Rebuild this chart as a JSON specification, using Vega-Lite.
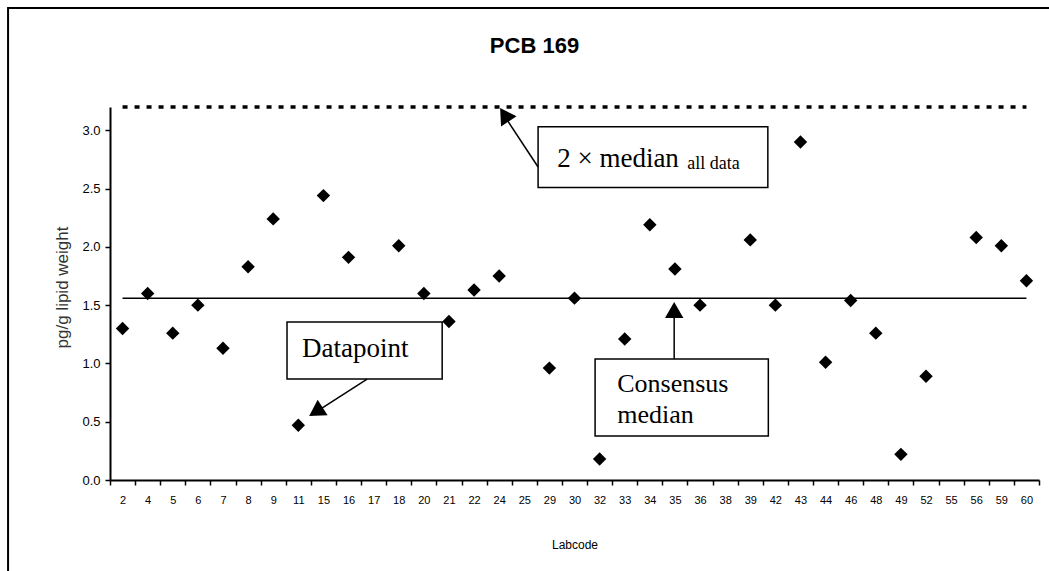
{
  "$schema": "https://vega.github.io/schema/vega-lite/v6.json",
  "width": 929,
  "height": 373,
  "autosize": {"type": "none"},
  "padding": {"left": 110, "top": 107, "right": 10, "bottom": 91},
  "background": "white",
  "title": {
    "text": "PCB 169",
    "font": "Liberation Sans",
    "fontSize": 22,
    "fontWeight": "bold",
    "color": "black",
    "anchor": "middle",
    "frame": "group",
    "baseline": "alphabetic",
    "offset": -68,
    "dx": -40
  },
  "config": {
    "view": {"stroke": null},
    "axis": {
      "grid": false,
      "domainColor": "black",
      "domainWidth": 2,
      "tickColor": "black",
      "tickWidth": 1.5,
      "tickSize": 5,
      "labelColor": "black",
      "labelFont": "Liberation Sans",
      "titleFont": "Liberation Sans",
      "titleColor": "black",
      "titleFontWeight": "normal"
    }
  },
  "datasets": {
    "pcb": [
      {"Labcode": 2, "value": 1.30},
      {"Labcode": 4, "value": 1.60},
      {"Labcode": 5, "value": 1.26},
      {"Labcode": 6, "value": 1.50},
      {"Labcode": 7, "value": 1.13},
      {"Labcode": 8, "value": 1.83},
      {"Labcode": 9, "value": 2.24},
      {"Labcode": 11, "value": 0.47},
      {"Labcode": 15, "value": 2.44},
      {"Labcode": 16, "value": 1.91},
      {"Labcode": 17, "value": null},
      {"Labcode": 18, "value": 2.01},
      {"Labcode": 20, "value": 1.60},
      {"Labcode": 21, "value": 1.36},
      {"Labcode": 22, "value": 1.63},
      {"Labcode": 24, "value": 1.75},
      {"Labcode": 25, "value": null},
      {"Labcode": 29, "value": 0.96},
      {"Labcode": 30, "value": 1.56},
      {"Labcode": 32, "value": 0.18},
      {"Labcode": 33, "value": 1.21},
      {"Labcode": 34, "value": 2.19},
      {"Labcode": 35, "value": 1.81},
      {"Labcode": 36, "value": 1.50},
      {"Labcode": 38, "value": null},
      {"Labcode": 39, "value": 2.06},
      {"Labcode": 42, "value": 1.50},
      {"Labcode": 43, "value": 2.90},
      {"Labcode": 44, "value": 1.01},
      {"Labcode": 46, "value": 1.54},
      {"Labcode": 48, "value": 1.26},
      {"Labcode": 49, "value": 0.22},
      {"Labcode": 52, "value": 0.89},
      {"Labcode": 55, "value": null},
      {"Labcode": 56, "value": 2.08},
      {"Labcode": 59, "value": 2.01},
      {"Labcode": 60, "value": 1.71}
    ]
  },
  "layer": [
    {
      "data": {"name": "pcb"},
      "encoding": {
        "x": {
          "field": "Labcode",
          "type": "ordinal",
          "scale": {"type": "band", "paddingInner": 0, "paddingOuter": 0},
          "axis": {
            "title": "Labcode",
            "labelAngle": 0,
            "labelFontSize": 11,
            "labelPadding": 9,
            "tickBand": "extent",
            "titleFontSize": 12,
            "titlePadding": 34
          }
        }
      },
      "layer": [
        {
          "mark": {"type": "line", "color": "black", "strokeWidth": 1.5},
          "encoding": {
            "y": {"datum": 1.56, "type": "quantitative", "scale": {"domain": [0, 3.2], "nice": false}}
          }
        },
        {
          "mark": {"type": "line", "color": "black", "strokeWidth": 3.5, "strokeDash": [5, 7]},
          "encoding": {
            "y": {"datum": 3.2, "type": "quantitative"}
          }
        },
        {
          "mark": {"type": "point", "shape": "diamond", "filled": true, "color": "black", "opacity": 1, "size": 180},
          "encoding": {
            "y": {
              "field": "value",
              "type": "quantitative",
              "scale": {"domain": [0, 3.2], "nice": false},
              "axis": {
                "title": "pg/g lipid weight",
                "values": [0, 0.5, 1, 1.5, 2, 2.5, 3],
                "format": ".1f",
                "labelFontSize": 13,
                "labelPadding": 5,
                "titleFontSize": 17,
                "titlePadding": 10,
                "titleY": 180,
                "titleColor": "#333"
              }
            }
          }
        }
      ]
    },
    {
      "data": {"values": [{}]},
      "layer": [
        {
          "mark": {"type": "rect", "fill": null, "filled": false, "stroke": "black", "strokeWidth": 2},
          "encoding": {
            "x": {"datum": -4.06, "type": "quantitative", "scale": {"domain": [0, 37], "nice": false}, "axis": null},
            "x2": {"datum": 40},
            "y": {"datum": 4.05, "type": "quantitative", "scale": {"domain": [0, 3.2], "nice": false}, "axis": null},
            "y2": {"datum": -2}
          }
        },
        {
          "mark": {"type": "rect", "fill": "white", "stroke": "black", "strokeWidth": 1.5},
          "encoding": {
            "x": {"datum": 17.05, "type": "quantitative"},
            "x2": {"datum": 26.2},
            "y": {"datum": 3.03, "type": "quantitative"},
            "y2": {"datum": 2.51}
          }
        },
        {
          "mark": {"type": "rect", "fill": "white", "stroke": "black", "strokeWidth": 1.5},
          "encoding": {
            "x": {"datum": 7.05, "type": "quantitative"},
            "x2": {"datum": 13.23},
            "y": {"datum": 1.355, "type": "quantitative"},
            "y2": {"datum": 0.866}
          }
        },
        {
          "mark": {"type": "rect", "fill": "white", "stroke": "black", "strokeWidth": 1.5},
          "encoding": {
            "x": {"datum": 19.32, "type": "quantitative"},
            "x2": {"datum": 26.22},
            "y": {"datum": 1.038, "type": "quantitative"},
            "y2": {"datum": 0.377}
          }
        },
        {
          "mark": {"type": "rule", "color": "black", "strokeWidth": 1.5},
          "encoding": {
            "x": {"datum": 17.05, "type": "quantitative"},
            "x2": {"datum": 15.6},
            "y": {"datum": 2.685, "type": "quantitative"},
            "y2": {"datum": 3.16}
          }
        },
        {
          "mark": {"type": "rule", "color": "black", "strokeWidth": 1.5},
          "encoding": {
            "x": {"datum": 10.24, "type": "quantitative"},
            "x2": {"datum": 8.1},
            "y": {"datum": 0.866, "type": "quantitative"},
            "y2": {"datum": 0.57}
          }
        },
        {
          "mark": {"type": "rule", "color": "black", "strokeWidth": 1.5},
          "encoding": {
            "x": {"datum": 22.47, "type": "quantitative"},
            "x2": {"datum": 22.47},
            "y": {"datum": 1.038, "type": "quantitative"},
            "y2": {"datum": 1.47}
          }
        },
        {
          "mark": {"type": "point", "shape": "triangle-up", "filled": true, "color": "black", "opacity": 1, "size": 340, "angle": 327},
          "encoding": {
            "x": {"datum": 15.71, "type": "quantitative"},
            "y": {"datum": 3.134, "type": "quantitative"}
          }
        },
        {
          "mark": {"type": "point", "shape": "triangle-up", "filled": true, "color": "black", "opacity": 1, "size": 340, "angle": 237.5},
          "encoding": {
            "x": {"datum": 8.2, "type": "quantitative"},
            "y": {"datum": 0.586, "type": "quantitative"}
          }
        },
        {
          "mark": {"type": "point", "shape": "triangle-up", "filled": true, "color": "black", "opacity": 1, "size": 340, "angle": 0},
          "encoding": {
            "x": {"datum": 22.47, "type": "quantitative"},
            "y": {"datum": 1.458, "type": "quantitative"}
          }
        },
        {
          "mark": {"type": "text", "font": "Liberation Serif", "fontSize": 27, "align": "left", "baseline": "alphabetic", "color": "black"},
          "encoding": {
            "x": {"datum": 17.81, "type": "quantitative"},
            "y": {"datum": 2.688, "type": "quantitative"},
            "text": {"value": "2 × median"}
          }
        },
        {
          "mark": {"type": "text", "font": "Liberation Serif", "fontSize": 18, "align": "left", "baseline": "alphabetic", "color": "black"},
          "encoding": {
            "x": {"datum": 22.99, "type": "quantitative"},
            "y": {"datum": 2.668, "type": "quantitative"},
            "text": {"value": "all data"}
          }
        },
        {
          "mark": {"type": "text", "font": "Liberation Serif", "fontSize": 27, "align": "left", "baseline": "alphabetic", "color": "black"},
          "encoding": {
            "x": {"datum": 7.65, "type": "quantitative"},
            "y": {"datum": 1.055, "type": "quantitative"},
            "text": {"value": "Datapoint"}
          }
        },
        {
          "mark": {"type": "text", "font": "Liberation Serif", "fontSize": 26, "align": "left", "baseline": "alphabetic", "color": "black"},
          "encoding": {
            "x": {"datum": 20.2, "type": "quantitative"},
            "y": {"datum": 0.755, "type": "quantitative"},
            "text": {"value": "Consensus"}
          }
        },
        {
          "mark": {"type": "text", "font": "Liberation Serif", "fontSize": 26, "align": "left", "baseline": "alphabetic", "color": "black"},
          "encoding": {
            "x": {"datum": 20.2, "type": "quantitative"},
            "y": {"datum": 0.489, "type": "quantitative"},
            "text": {"value": "median"}
          }
        }
      ]
    }
  ],
  "resolve": {"scale": {"x": "independent", "y": "independent"}}
}
